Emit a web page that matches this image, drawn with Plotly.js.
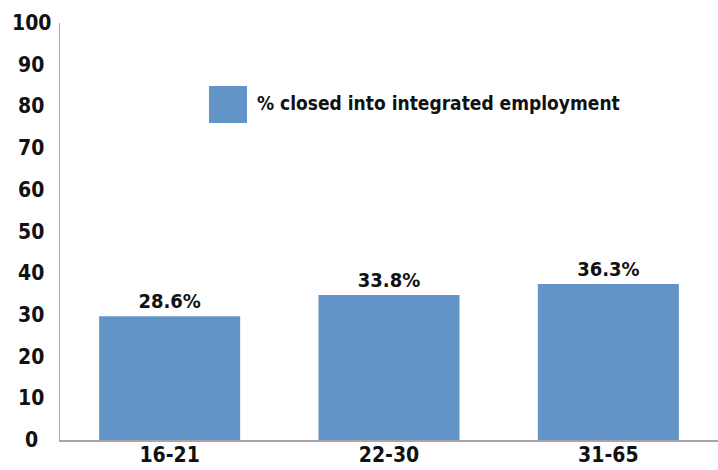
<!DOCTYPE html>
<html><head><meta charset="utf-8">
<script src="https://cdn.plot.ly/plotly-3.0.1.min.js"></script>
<style>html,body{margin:0;padding:0;background:#fff}#chart{width:718px;height:470px}</style>
</head><body><div id="chart"></div>
<script>
const categories = ["16-21", "22-30", "31-65"];
const barHeights = [29.7, 34.8, 37.4];
const barLabels = ["28.6%", "33.8%", "36.3%"];
const seriesName = "% closed into integrated employment";
const yTicks = [0, 10, 20, 30, 40, 50, 60, 70, 80, 90, 100];

const FONT = "DejaVu Sans Condensed, Liberation Sans Narrow, sans-serif";
const barColor = "#6394C8";

const trace = {
  type: "bar", x: categories, y: barHeights, name: seriesName,
  marker: {color: barColor},
  text: barLabels.map(t => "<b>" + t + "</b>"),
  textposition: "outside", cliponaxis: false,
  textfont: {family: FONT, size: 20, color: "#111"},
  hoverinfo: "none"
};

const annotations = yTicks.map(v => ({
  xref: "paper", yref: "y", x: 0, y: v, xshift: -29,
  text: "<b>" + v + "</b>", showarrow: false, xanchor: "center", yanchor: "middle",
  font: {family: FONT, size: 21, color: "#111"}
}));
annotations.push({
  xref: "paper", yref: "paper", x: 0.297, y: 0.808,
  text: "<b>" + seriesName + "</b>", showarrow: false, xanchor: "left", yanchor: "middle",
  font: {family: FONT, size: 19, color: "#111"}
});

const layout = {
  width: 718, height: 470,
  margin: {l: 60, r: 0, t: 23, b: 30},
  paper_bgcolor: "#fff", plot_bgcolor: "#fff",
  showlegend: false, bargap: 0.357,
  xaxis: {
    showline: true, linecolor: "#a6a6a6", linewidth: 1.5, ticks: "",
    tickvals: categories,
    ticktext: categories.map(c => "<b>" + c + "</b>"),
    ticklabelstandoff: -5,
    tickfont: {family: FONT, size: 21, color: "#111"},
    showgrid: false, zeroline: false, automargin: false
  },
  yaxis: {
    range: [0, 100], tickvals: yTicks, showticklabels: false,
    showline: true, linecolor: "#a6a6a6", linewidth: 1.5, ticks: "",
    showgrid: false, zeroline: false, automargin: false
  },
  annotations: annotations,
  shapes: [{
    type: "rect", xref: "paper", yref: "paper",
    x0: 0.2264, x1: 0.2842, y0: 0.760, y1: 0.849,
    fillcolor: barColor, line: {width: 0}
  }]
};

Plotly.newPlot("chart", [trace], layout, {staticPlot: true, displayModeBar: false});
</script></body></html>
